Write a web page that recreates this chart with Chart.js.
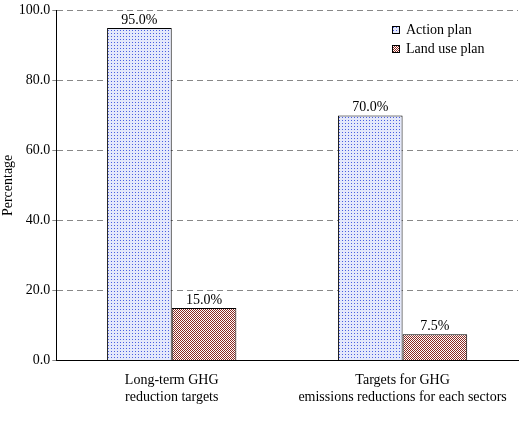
<!DOCTYPE html>
<html><head><meta charset="utf-8">
<script src="https://cdn.jsdelivr.net/npm/chart.js@4/dist/chart.umd.min.js"></script>
<style>body{margin:0;background:#fff}#w{width:520px;height:432px}</style>
</head><body><div id="w"><canvas id="c"></canvas></div>
<script>
const categories = [["Long-term GHG","reduction targets"],["Targets for GHG","emissions reductions for each sectors"]];
const actionPlan = [95.0, 70.0];
const landUsePlan = [15.0, 7.5];
const yTicks = [0,20,40,60,80,100];

function dotPattern(){
  const p=document.createElement('canvas');p.width=3;p.height=3;const g=p.getContext('2d');
  g.fillStyle='#e4e8fb';g.fillRect(0,0,3,3);
  g.fillStyle='#4a5fe0';g.fillRect(0,0,1,1);
  return g.createPattern(p,'repeat');
}
function hatchPattern(){
  const p=document.createElement('canvas');p.width=4;p.height=4;const g=p.getContext('2d');
  g.fillStyle='#ffffff';g.fillRect(0,0,4,4);
  g.fillStyle='#8b2a22';
  g.fillRect(0,0,1,1);g.fillRect(1,1,1,1);g.fillRect(2,2,1,1);g.fillRect(3,3,1,1);
  g.fillRect(3,1,1,1);g.fillRect(1,3,1,1);g.fillRect(2,0,1,1);g.fillRect(0,2,1,1);
  return g.createPattern(p,'repeat');
}
const labelPlugin={id:'lbl',afterDatasetsDraw(ch){
  const ctx=ch.ctx;ctx.save();ctx.font='14px "Liberation Serif"';ctx.fillStyle='#000';ctx.textAlign='center';ctx.textBaseline='bottom';
  ch.data.datasets.forEach((ds,i)=>{ch.getDatasetMeta(i).data.forEach((b,j)=>{ctx.fillText(ds.data[j].toFixed(1)+'%',b.x,b.y-1);});});
  // legend
  ctx.textAlign='left';ctx.textBaseline='middle';
  ch.data.datasets.forEach((ds,i)=>{
    const x=392,y=30+i*19;
    ctx.fillStyle=ds.backgroundColor;ctx.fillRect(x,y-4,8,8);
    ctx.strokeStyle='#000';ctx.lineWidth=1;ctx.strokeRect(x+0.5,y-3.5,7,7);
    ctx.fillStyle='#000';ctx.fillText(ds.label,x+14,y);
  });
  ctx.restore();
}};
Chart.defaults.font.family='"Liberation Serif", serif';
Chart.defaults.color='#000';
new Chart(document.getElementById('c'),{
  type:'bar',
  data:{labels:categories,datasets:[
    {label:'Action plan',data:actionPlan,backgroundColor:dotPattern(),borderColor:'#000',borderWidth:1},
    {label:'Land use plan',data:landUsePlan,backgroundColor:hatchPattern(),borderColor:'#000',borderWidth:1}
  ]},
  options:{responsive:true,maintainAspectRatio:false,animation:false,
    layout:{padding:{top:8,right:2,left:0,bottom:14}},
    categoryPercentage:0.56,barPercentage:1,
    plugins:{legend:{display:false},tooltip:{enabled:false}},
    scales:{
      x:{grid:{display:false,drawTicks:false},border:{color:'#000'},ticks:{font:{size:14},padding:12}},
      y:{min:0,max:100,afterBuildTicks:a=>{a.ticks=yTicks.map(v=>({value:v}));},
        ticks:{font:{size:14},padding:2,callback:v=>v.toFixed(1)},
        grid:{color:'#888',drawTicks:true,tickLength:4},border:{color:'#000',dash:[6,4]},
        title:{display:true,text:'Percentage',font:{size:14},padding:0}}
    }
  },
  plugins:[labelPlugin]
});
</script></body></html>
